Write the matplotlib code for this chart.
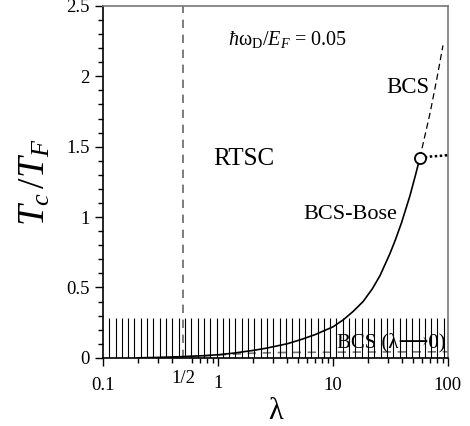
import numpy as np
import matplotlib
matplotlib.use('Agg')
import matplotlib.pyplot as plt

plt.rcParams['font.family'] = ['Liberation Serif', 'DejaVu Serif', 'DejaVu Sans']
plt.rcParams['mathtext.fontset'] = 'custom'
plt.rcParams['mathtext.rm'] = 'Liberation Serif'
plt.rcParams['mathtext.it'] = 'Liberation Serif:italic'
plt.rcParams['mathtext.bf'] = 'Liberation Serif:bold'

# BCS-Bose crossover curve (solid)
lam_bose = [0.2, 0.3, 0.5, 0.7, 1.0, 1.35, 2.0, 2.65, 4.0, 5.2, 7.0, 10.0, 12.3, 15.0, 18.3, 22.0, 25.7, 31.3, 35.0, 39.5, 46.7, 52.7, 57.0]
tc_bose = [0.0, 0.003, 0.009, 0.014, 0.022, 0.033, 0.052, 0.069, 0.10, 0.128, 0.165, 0.22, 0.27, 0.33, 0.40, 0.49, 0.585, 0.74, 0.84, 0.96, 1.15, 1.31, 1.42]

# BCS branch continuing above the crossing point (dashed)
lam_bcs = [57.0, 70.0, 80.0, 90.6]
tc_bcs = [1.42, 1.74, 1.98, 2.22]

# Bose branch after the crossing point (dotted)
lam_dot = [57.0, 70.0, 85.0, 100.0]
tc_dot = [1.42, 1.43, 1.435, 1.44]

# weak-coupling BCS limit (grey dashed)
lam_weak = [0.3, 0.5, 0.7, 1.0, 1.5, 2.0, 3.0, 5.0, 10.0, 30.0, 100.0]
tc_weak = [0.0, 0.006, 0.012, 0.02, 0.028, 0.033, 0.037, 0.039, 0.04, 0.042, 0.043]

lam_rtsc = 0.5
hatch_top = 0.285

fig = plt.figure(figsize=(4.70, 4.26), dpi=100)
ax = fig.add_axes([0.219, 0.160, 0.734, 0.826])

ax.set_xscale('log')
ax.set_xlim(0.1, 100)
ax.set_ylim(0, 2.5)

# vertical hatching of the low-Tc region
hatch_x = np.geomspace(0.1135, 92, 54)
ax.vlines(hatch_x, 0, hatch_top, colors='black', linewidth=0.8, zorder=2)

ax.axvline(lam_rtsc, color='#666666', linestyle=(0, (5, 4)), linewidth=1.2, zorder=1)
ax.plot(lam_weak, tc_weak, color='#777777', linestyle=(0, (5, 4)), linewidth=1.2, zorder=1)
ax.plot(lam_bose, tc_bose, color='black', linewidth=1.2, zorder=3)
ax.plot(lam_bcs, tc_bcs, color='black', linestyle=(0, (5, 3)), linewidth=0.9, zorder=3)
ax.plot(lam_dot, tc_dot, color='black', linestyle=(0, (1, 1)), linewidth=1.8, zorder=3)
ax.plot([lam_bose[-1]], [tc_bose[-1]], marker='o', markersize=8, markerfacecolor='white',
        markeredgecolor='black', markeredgewidth=1.3, zorder=4)

ax.text(1.22, 2.26, r'$\hbar$ω$_{\rm D}/E_F$ = 0.05', fontsize=14.5, va='center', ha='left')
ax.text(69.7, 1.92, 'BCS', fontsize=16.5, va='center', ha='right')
ax.text(0.905, 1.41, 'RTSC', fontsize=18, va='center', ha='left')
ax.text(36, 1.02, 'BCS-Bose', fontsize=16, va='center', ha='right')
ax.text(10.8, 0.11, 'BCS (λ⟶0)', fontsize=15, va='center', ha='left', zorder=5)

ax.set_xticks([0.1, 0.5, 1, 10, 100])
ax.set_xticklabels(['0.1', '1/2', '1', '10', '100'])
ax.set_yticks([0, 0.5, 1, 1.5, 2, 2.5])
ax.set_yticklabels(['0', '0.5', '1', '1.5', '2', '2.5'])
ax.set_yticks(np.arange(0, 2.51, 0.1), minor=True)
ax.tick_params(which='major', direction='out', length=6, width=1, labelsize=13.5)
ax.tick_params(which='minor', direction='out', length=3.5, width=1)
ax.tick_params(axis='x', which='major', pad=8)
for tick in ax.xaxis.get_major_ticks():
    if tick.get_loc() == 0.5:
        tick.set_pad(3)
        tick.tick1line.set_visible(False)
    elif tick.get_loc() == 1:
        tick.set_pad(6)

for side in ['top', 'right']:
    ax.spines[side].set_color('#777777')
    ax.spines[side].set_linewidth(1.2)
for side in ['left', 'bottom']:
    ax.spines[side].set_linewidth(1.2)

ax.set_xlabel('λ', fontsize=22, labelpad=2)
ax.set_ylabel(r'$T_c\,/T_F$', fontsize=27, labelpad=10)

fig.savefig('out.png', dpi=100)
